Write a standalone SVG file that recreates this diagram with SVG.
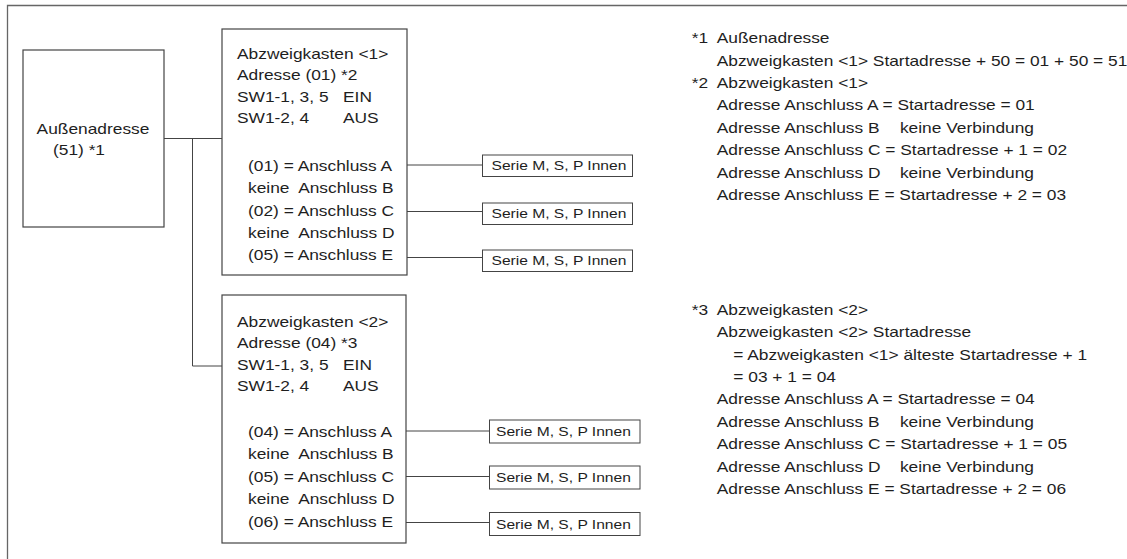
<svg xmlns="http://www.w3.org/2000/svg" width="1127" height="559" viewBox="0 0 1127 559">
<style>
.t{font-family:"Liberation Sans",Arial,sans-serif;font-size:14px;fill:#1e1e1e;white-space:pre}
.s{font-family:"Liberation Sans",Arial,sans-serif;font-size:13px;fill:#1e1e1e}
.box{fill:#fff;stroke:#444;stroke-width:1.2}
.sbox{fill:#fff;stroke:#444;stroke-width:1}
.ln{fill:none;stroke:#444;stroke-width:1}
.frame{fill:none;stroke:#666;stroke-width:1.3}
</style>
<rect width="1127" height="559" fill="#fff"/>
<path class="frame" d="M7.5,559 V5.5 H1127"/>

<g id="connectors">
  <path class="ln" d="M164,138.5 H222"/>
  <path class="ln" d="M192.5,138.5 V366 H222"/>
  <path class="ln" d="M407,165 H482.5"/>
  <path class="ln" d="M407,211.5 H482.5"/>
  <path class="ln" d="M407,257.5 H482.5"/>
  <path class="ln" d="M406,431 H489.5"/>
  <path class="ln" d="M406,476.5 H489.5"/>
  <path class="ln" d="M406,522.5 H489.5"/>
</g>

<g id="outdoor">
  <rect class="box" x="23" y="50" width="141" height="177"/>
  <text class="t" text-anchor="middle" transform="translate(93,134) scale(1.24,1)">Außenadresse</text>
  <text class="t" text-anchor="middle" transform="translate(79,155) scale(1.24,1)">(51) *1</text>
</g>

<g id="branch1">
  <rect class="box" x="222" y="29" width="185" height="246"/>
  <text class="t" transform="translate(237,58.5) scale(1.24,1)">Abzweigkasten &lt;1&gt;</text>
  <text class="t" transform="translate(237,80) scale(1.24,1)">Adresse (01) *2</text>
  <text class="t" transform="translate(237,101.5) scale(1.24,1)">SW1-1, 3, 5<tspan x="85.5">EIN</tspan></text>
  <text class="t" transform="translate(237,123) scale(1.24,1)">SW1-2, 4<tspan x="85.5">AUS</tspan></text>
  <text class="t" transform="translate(248,171) scale(1.24,1)">(01) = Anschluss A</text>
  <text class="t" transform="translate(248,193.3) scale(1.24,1)">keine  Anschluss B</text>
  <text class="t" transform="translate(248,215.6) scale(1.24,1)">(02) = Anschluss C</text>
  <text class="t" transform="translate(248,238) scale(1.24,1)">keine  Anschluss D</text>
  <text class="t" transform="translate(248,260.3) scale(1.24,1)">(05) = Anschluss E</text>
</g>

<g id="branch2">
  <rect class="box" x="222" y="295" width="184" height="248"/>
  <text class="t" transform="translate(237,326.5) scale(1.24,1)">Abzweigkasten &lt;2&gt;</text>
  <text class="t" transform="translate(237,348) scale(1.24,1)">Adresse (04) *3</text>
  <text class="t" transform="translate(237,369.5) scale(1.24,1)">SW1-1, 3, 5<tspan x="85.5">EIN</tspan></text>
  <text class="t" transform="translate(237,391) scale(1.24,1)">SW1-2, 4<tspan x="85.5">AUS</tspan></text>
  <text class="t" transform="translate(248,437) scale(1.24,1)">(04) = Anschluss A</text>
  <text class="t" transform="translate(248,459) scale(1.24,1)">keine  Anschluss B</text>
  <text class="t" transform="translate(248,481.5) scale(1.24,1)">(05) = Anschluss C</text>
  <text class="t" transform="translate(248,504) scale(1.24,1)">keine  Anschluss D</text>
  <text class="t" transform="translate(248,526.5) scale(1.24,1)">(06) = Anschluss E</text>
</g>

<g id="indoor1a">
  <rect class="sbox" x="482.5" y="155" width="150" height="21.5"/>
  <text class="s" transform="translate(491.5,170.3) scale(1.2,1)">Serie M, S, P Innen</text>
</g>
<g id="indoor1c">
  <rect class="sbox" x="482.5" y="203" width="150" height="21.5"/>
  <text class="s" transform="translate(491.5,218.3) scale(1.2,1)">Serie M, S, P Innen</text>
</g>
<g id="indoor1e">
  <rect class="sbox" x="482.5" y="250" width="150" height="21.5"/>
  <text class="s" transform="translate(491.5,265.3) scale(1.2,1)">Serie M, S, P Innen</text>
</g>
<g id="indoor2a">
  <rect class="sbox" x="489.5" y="420" width="150.5" height="23"/>
  <text class="s" transform="translate(496,436.2) scale(1.2,1)">Serie M, S, P Innen</text>
</g>
<g id="indoor2c">
  <rect class="sbox" x="489.5" y="466" width="150.5" height="23"/>
  <text class="s" transform="translate(496,482.2) scale(1.2,1)">Serie M, S, P Innen</text>
</g>
<g id="indoor2e">
  <rect class="sbox" x="489.5" y="512.5" width="150.5" height="23"/>
  <text class="s" transform="translate(496,528.7) scale(1.2,1)">Serie M, S, P Innen</text>
</g>

<g id="notes">
  <text class="t" transform="translate(691.7,43.3) scale(1.24,1)">*1<tspan x="20.2">Außenadresse</tspan></text>
  <text class="t" transform="translate(716.7,65.5) scale(1.24,1)">Abzweigkasten &lt;1&gt; Startadresse + 50 = 01 + 50 = 51</text>
  <text class="t" transform="translate(691.7,88) scale(1.24,1)">*2<tspan x="20.2">Abzweigkasten &lt;1&gt;</tspan></text>
  <text class="t" transform="translate(716.7,110.3) scale(1.24,1)">Adresse Anschluss A = Startadresse = 01</text>
  <text class="t" transform="translate(716.7,132.6) scale(1.24,1)">Adresse Anschluss B<tspan x="147.8">keine Verbindung</tspan></text>
  <text class="t" transform="translate(716.7,155) scale(1.24,1)">Adresse Anschluss C = Startadresse + 1 = 02</text>
  <text class="t" transform="translate(716.7,177.5) scale(1.24,1)">Adresse Anschluss D<tspan x="147.8">keine Verbindung</tspan></text>
  <text class="t" transform="translate(716.7,200) scale(1.24,1)">Adresse Anschluss E = Startadresse + 2 = 03</text>

  <text class="t" transform="translate(691.7,315) scale(1.24,1)">*3<tspan x="20.2">Abzweigkasten &lt;2&gt;</tspan></text>
  <text class="t" transform="translate(716.7,337) scale(1.24,1)">Abzweigkasten &lt;2&gt; Startadresse</text>
  <text class="t" transform="translate(733.3,359.5) scale(1.24,1)">= Abzweigkasten &lt;1&gt; älteste Startadresse + 1</text>
  <text class="t" transform="translate(733.3,382) scale(1.24,1)">= 03 + 1 = 04</text>
  <text class="t" transform="translate(716.7,404.3) scale(1.24,1)">Adresse Anschluss A = Startadresse = 04</text>
  <text class="t" transform="translate(716.7,426.6) scale(1.24,1)">Adresse Anschluss B<tspan x="147.8">keine Verbindung</tspan></text>
  <text class="t" transform="translate(716.7,449) scale(1.24,1)">Adresse Anschluss C = Startadresse + 1 = 05</text>
  <text class="t" transform="translate(716.7,471.5) scale(1.24,1)">Adresse Anschluss D<tspan x="147.8">keine Verbindung</tspan></text>
  <text class="t" transform="translate(716.7,494) scale(1.24,1)">Adresse Anschluss E = Startadresse + 2 = 06</text>
</g>
</svg>
